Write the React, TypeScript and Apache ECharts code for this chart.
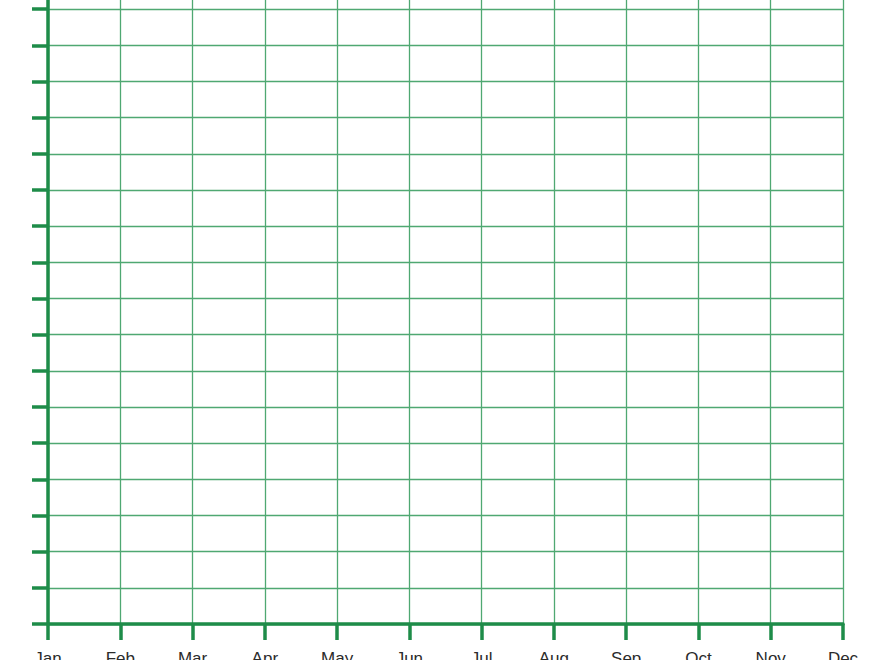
import React, { useEffect, useRef } from "react";
import * as echarts from "echarts";

const months = ["Jan", "Feb", "Mar", "Apr", "May", "Jun", "Jul", "Aug", "Sep", "Oct", "Nov", "Dec"];
const yMin = 0;
const yMax = 18;
const yInterval = 1;

export default function App() {
  const ref = useRef<HTMLDivElement>(null);
  useEffect(() => {
    if (!ref.current) return;
    const chart = echarts.init(ref.current, null, { renderer: "svg" });
    const axisGreen = "#1e8c49";
    const gridGreen = "#4fa872";
    chart.setOption({
      animation: false,
      backgroundColor: "#ffffff",
      grid: { left: 48, right: 37, top: 0, bottom: 36, containLabel: false, outerBoundsMode: "none" },
      xAxis: {
        type: "category",
        data: months,
        boundaryGap: false,
        axisLine: { show: true, lineStyle: { color: axisGreen, width: 3.5 } },
        axisTick: { show: true, alignWithLabel: true, length: 16, lineStyle: { color: axisGreen, width: 3.5 } },
        axisLabel: { color: "#2b2b2b", fontSize: 17, fontFamily: "Liberation Sans, Arial, sans-serif", margin: 26 },
        splitLine: { show: true, lineStyle: { color: gridGreen, width: 1.3 } },
      },
      yAxis: {
        type: "value",
        min: yMin,
        max: yMax,
        interval: yInterval,
        axisLine: { show: true, lineStyle: { color: axisGreen, width: 3.5 } },
        axisTick: { show: true, length: 16, lineStyle: { color: axisGreen, width: 3.5 } },
        axisLabel: { show: false },
        splitLine: { show: true, lineStyle: { color: gridGreen, width: 1.3 } },
      },
      series: [
        { type: "line", data: [], silent: true },
      ],
    });
    return () => chart.dispose();
  }, []);
  return (
    <div style={{ position: "fixed", left: 0, top: 0, width: 880, height: 660, overflow: "hidden", background: "#fff" }}>
      <div ref={ref} style={{ position: "absolute", left: 0, top: -27, width: 880, height: 687 }} />
    </div>
  );
}
